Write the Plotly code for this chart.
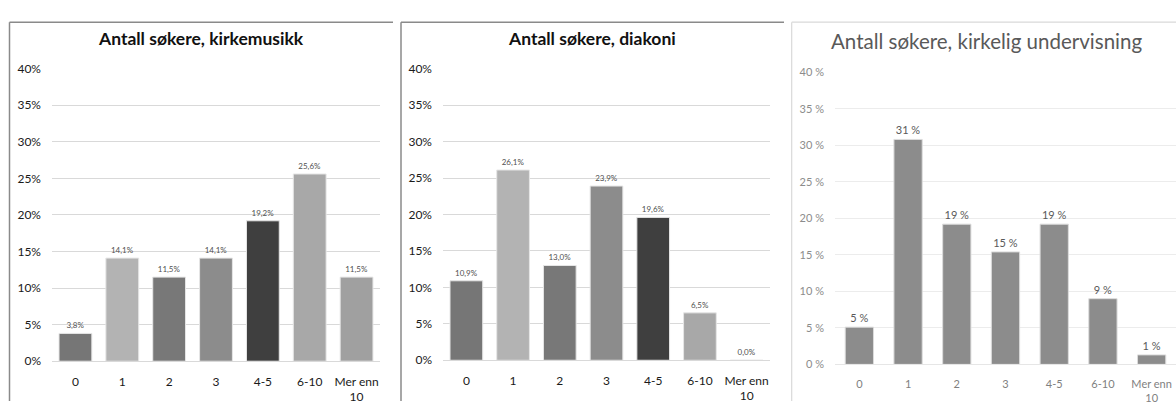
import plotly.graph_objects as go

W, H = 1176, 408

categories = ["0", "1", "2", "3", "4-5", "6-10", "Mer enn<br>10"]

# Share of applicants (%) per number-of-applicants bucket
kirkemusikk = [3.8, 14.1, 11.5, 14.1, 19.2, 25.6, 11.5]
diakoni = [10.9, 26.1, 13.0, 23.9, 19.6, 6.5, 0.0]
undervisning = [5.1, 30.8, 19.2, 15.4, 19.2, 9.0, 1.3]

titles = [
    "Antall søkere, kirkemusikk",
    "Antall søkere, diakoni",
    "Antall søkere, kirkelig undervisning",
]
y_ticks = [0, 5, 10, 15, 20, 25, 30, 35, 40]
y_labels_tight = ["0%", "5%", "10%", "15%", "20%", "25%", "30%", "35%", "40%"]
y_labels_spaced = ["0 %", "5 %", "10 %", "15 %", "20 %", "25 %", "30 %", "35 %", "40 %"]

# Per-bar greys used in the two older charts
grey_bars = ["#767676", "#b3b3b3", "#787878", "#8c8c8c", "#3f3f3f", "#a8a8a8", "#a0a0a0"]
flat_grey = "#8c8c8c"


def px_x(v):
    return v / W


def px_y(v):
    return 1 - v / H


FONT = "Lato, 'Open Sans', sans-serif"

fig = go.Figure()

# Chart 1 and 2: classic style with dark labels
for vals, ax in [(kirkemusikk, ""), (diakoni, "2")]:
    fig.add_trace(go.Bar(
        x=categories, y=vals,
        xaxis="x" + ax, yaxis="y" + ax,
        marker=dict(color=grey_bars, line=dict(color="#e6e6e6", width=1)),
        texttemplate="%{y:.1f}%", textposition="outside",
        textfont=dict(size=8, color="#505050", family=FONT),
        cliponaxis=False, showlegend=False,
    ))

# Chart 3: flat grey bars with rounded labels
fig.add_trace(go.Bar(
    x=categories, y=undervisning,
    xaxis="x3", yaxis="y3",
    width=0.58,
    marker=dict(color=flat_grey, line=dict(color="#dcdcdc", width=1)),
    texttemplate="%{y:.0f} %", textposition="outside",
    textfont=dict(size=11, color="#595959", family=FONT),
    cliponaxis=False, showlegend=False,
))

panels = [
    dict(x0=52, x1=380, top=63, bottom=366.7),
    dict(x0=443, x1=770, top=63, bottom=365.7),
    dict(x0=835, x1=1176, top=66.7, bottom=370),
]

layout = dict(
    width=W, height=H,
    margin=dict(l=0, r=0, t=0, b=0),
    paper_bgcolor="white", plot_bgcolor="white",
    separators=", ",
    bargap=0.3,
    font=dict(family=FONT),
)

for i, p in enumerate(panels):
    sfx = "" if i == 0 else str(i + 1)
    modern = i == 2
    layout["xaxis" + sfx] = dict(
        domain=[px_x(p["x0"]), px_x(p["x1"])],
        anchor="y" + sfx,
        type="category",
        range=[-0.5, 6.5],
        showgrid=False,
        showline=True, linecolor="#d9d9d9" if not modern else "#e6e6e6", linewidth=1,
        ticks="", ticklabelstandoff=9,
        tickfont=dict(size=12 if not modern else 11,
                      color="#1a1a1a" if not modern else "#7f7f7f", family=FONT),
        fixedrange=True,
    )
    layout["yaxis" + sfx] = dict(
        domain=[px_y(p["bottom"]), px_y(p["top"])],
        anchor="x" + sfx,
        range=[0, 40],
        tickmode="array",
        tickvals=y_ticks,
        ticktext=y_labels_spaced if modern else y_labels_tight,
        showgrid=True, gridcolor="#d9d9d9" if not modern else "#ececec", gridwidth=1,
        zeroline=False, showline=False,
        ticks="", ticklabelstandoff=10,
        tickfont=dict(size=12 if not modern else 11,
                      color="#1a1a1a" if not modern else "#8c8c8c", family=FONT),
        fixedrange=True,
    )

layout["annotations"] = [
    dict(text="<b>" + titles[0] + "</b>", xref="paper", yref="paper",
         x=px_x(201), y=px_y(32), showarrow=False, xanchor="center", yanchor="middle",
         font=dict(size=17.5, color="#111111", family=FONT)),
    dict(text="<b>" + titles[1] + "</b>", xref="paper", yref="paper",
         x=px_x(592), y=px_y(32), showarrow=False, xanchor="center", yanchor="middle",
         font=dict(size=17.5, color="#111111", family=FONT)),
    dict(text=titles[2], xref="paper", yref="paper",
         x=px_x(986), y=px_y(34), showarrow=False, xanchor="center", yanchor="middle",
         font=dict(size=20.5, color="#595959", family=FONT)),
]

# Chart frames (only top and left edges fall inside the canvas)
frames = [
    dict(x0=9.5, x1=393, y=14.7, color="#8a8a8a", w=1.5),
    dict(x0=401, x1=784, y=14.7, color="#8a8a8a", w=1.5),
    dict(x0=791.7, x1=1176, y=14.7, color="#d9d9d9", w=1.2),
]
shapes = []
for f in frames:
    shapes.append(dict(type="line", xref="paper", yref="paper",
                       x0=px_x(f["x0"]), x1=px_x(f["x1"]), y0=px_y(f["y"]), y1=px_y(f["y"]),
                       line=dict(color=f["color"], width=f["w"])))
    shapes.append(dict(type="line", xref="paper", yref="paper",
                       x0=px_x(f["x0"]), x1=px_x(f["x0"]), y0=px_y(f["y"]), y1=0,
                       line=dict(color=f["color"], width=f["w"])))
layout["shapes"] = shapes

fig.update_layout(**layout)

fig.write_html("out.html")
